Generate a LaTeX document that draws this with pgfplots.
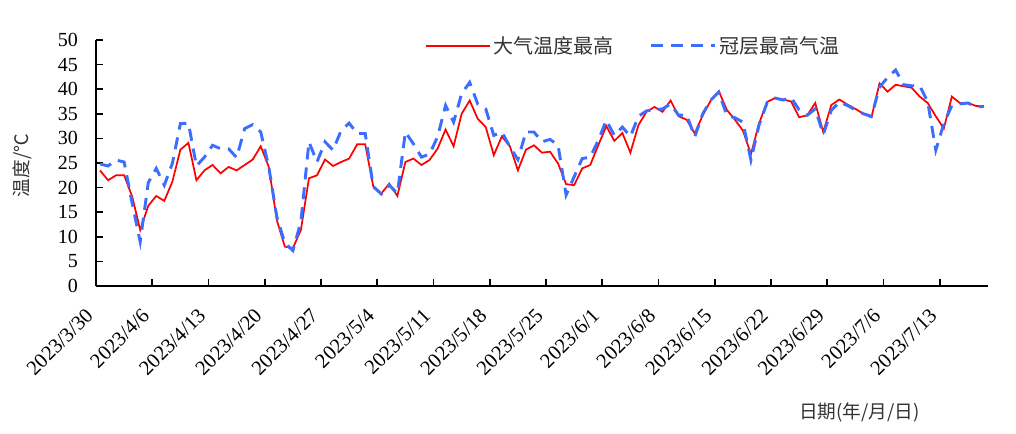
\documentclass[border=0pt]{standalone}
\usepackage{fontspec}
\setmainfont{Liberation Serif}
\newfontfamily\cjk{Noto Sans CJK SC}
\usepackage{pgfplots}
\usepackage{pgfplotstable}
\pgfplotsset{compat=1.18}
\definecolor{canblue}{RGB}{59,110,255}
\pgfplotstableread{
i air can
0 23.5 24.8
1 21.5 24.4
2 22.5 25.6
3 22.5 25.2
4 18.2 16.8
5 11.4 9.0
6 16.3 21.0
7 18.3 23.9
8 17.3 20.5
9 21.2 24.9
10 27.7 33.0
11 29.1 33.1
12 21.5 24.4
13 23.5 26.2
14 24.6 28.6
15 22.9 27.9
16 24.2 27.9
17 23.5 26.1
18 24.6 32.0
19 25.7 32.8
20 28.4 31.3
21 24.2 24.2
22 13.4 14.1
23 8.0 8.7
24 7.7 7.2
25 11.4 13.1
26 21.9 29.3
27 22.5 25.2
28 25.7 29.3
29 24.4 27.6
30 25.2 31.6
31 25.9 33.1
32 28.8 31.0
33 28.8 31.0
34 20.3 20.2
35 18.8 18.7
36 20.8 20.5
37 18.3 18.8
38 25.2 31.3
39 25.9 28.9
40 24.6 26.2
41 25.6 26.8
42 27.9 30.3
43 31.8 36.7
44 28.4 33.3
45 35.0 39.1
46 37.7 41.4
47 34.0 37.0
48 32.3 36.0
49 26.6 30.6
50 30.4 31.3
51 28.4 28.3
52 23.5 25.7
53 27.7 31.3
54 28.6 31.3
55 27.1 29.3
56 27.3 29.8
57 24.9 28.6
58 20.7 18.5
59 20.5 22.2
60 23.9 25.9
61 24.6 26.2
62 28.6 29.6
63 32.5 33.7
64 29.5 30.6
65 31.1 32.3
66 27.1 30.4
67 32.7 34.5
68 35.4 35.6
69 36.4 35.8
70 35.4 36.0
71 37.7 37.0
72 34.5 34.7
73 33.8 34.8
74 31.0 30.3
75 34.7 35.0
76 37.7 37.8
77 39.6 39.4
78 35.8 34.7
79 33.8 34.2
80 31.6 33.3
81 26.8 25.6
82 33.0 32.7
83 37.4 37.2
84 38.2 38.2
85 37.9 37.8
86 37.5 38.3
87 34.3 35.8
88 34.7 34.7
89 37.2 36.0
90 31.3 30.8
91 36.8 35.7
92 37.9 37.4
93 36.9 36.7
94 36.0 35.8
95 35.0 35.0
96 34.3 34.5
97 41.2 40.4
98 39.5 42.4
99 40.9 43.9
100 40.6 40.9
101 40.3 40.7
102 38.5 40.7
103 37.2 37.4
104 34.5 27.6
105 32.0 33.0
106 38.5 36.7
107 37.2 37.0
108 37.2 37.2
109 36.6 36.4
110 36.5 36.5
}\datatable
\begin{document}
\begin{tikzpicture}
\path[use as bounding box] (0,0) rectangle (762pt,324.75pt);
\begin{axis}[
  at={(72pt,110.25pt)}, anchor=south west,
  scale only axis, width=669pt, height=184.5pt,
  xmin=-0.5, xmax=110.5, ymin=0, ymax=50,
  axis x line*=bottom, axis y line*=left,
  axis line style={line width=1.5pt,-},
  tick align=inside,
  tick style={black, line width=1.2pt},
  major tick length=5pt,
  xtick={-0.5,6.5,13.5,20.5,27.5,34.5,41.5,48.5,55.5,62.5,69.5,76.5,83.5,90.5,97.5,104.5},
  xticklabels={2023/3/30,2023/4/6,2023/4/13,2023/4/20,2023/4/27,2023/5/4,2023/5/11,2023/5/18,2023/5/25,2023/6/1,2023/6/8,2023/6/15,2023/6/22,2023/6/29,2023/7/6,2023/7/13},
  ytick={0,5,...,50},
  /pgf/number format/assume math mode=true,
  ticklabel style={font=\fontsize{15pt}{17pt}\selectfont},
  xticklabel style={font=\fontsize{15.5pt}{17pt}\selectfont, rotate=45, anchor=east, xshift=-14pt, yshift=-10.5pt},
  yticklabel style={xshift=-10pt},
  xlabel={{\cjk 日期(年/月/日)}},
  xlabel style={at={(0.856,-0.512)}, anchor=center, font=\fontsize{14pt}{16pt}\selectfont, text=black!80},
  ylabel={{\cjk 温度/℃}},
  ylabel style={at={(-0.083,0.49)}, anchor=center, font=\fontsize{14pt}{16pt}\selectfont, text=black!80},
  legend columns=2,
  legend style={at={(0.603,0.976)}, anchor=center, draw=none, fill=none,
    font=\fontsize{15pt}{17pt}\selectfont\cjk, text=black!80,
    /tikz/every even column/.append style={column sep=25pt}},
  legend image code/.code={\draw[#1] (0pt,0pt) -- (48pt,0pt);},
]
\addplot[red, line width=1.3pt, mark=none] table[x=i, y=air] {\datatable};
\addlegendentry{大气温度最高}
\addplot[canblue, line width=2.2pt, dash pattern=on 9pt off 6pt, mark=none] table[x=i, y=can] {\datatable};
\addlegendentry{冠层最高气温}
\end{axis}
\end{tikzpicture}
\end{document}
